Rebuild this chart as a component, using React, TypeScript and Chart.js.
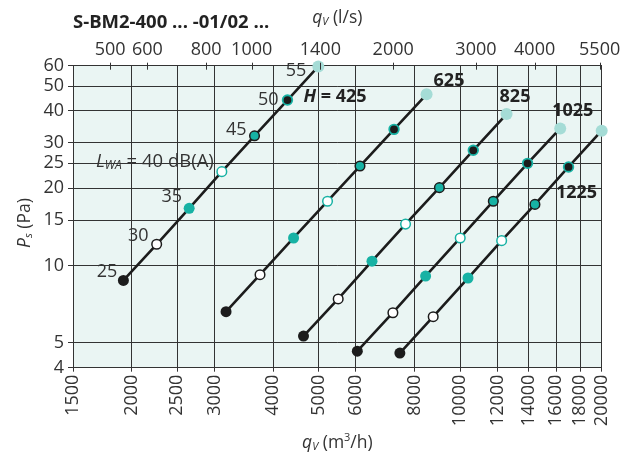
import { useEffect, useRef } from "react";
import { Chart, registerables } from "chart.js";

Chart.register(...registerables);

// ---- data ----
const lwaLevels = [25, 30, 35, 40, 45, 50, 55];
const heightLabels = ["425", "625", "825", "1025", "1225"];

const flowH425 = [1920, 2260, 2650, 3110, 3650, 4290, 4990];
const psH425 = [8.75, 12.1, 16.7, 23.2, 32.0, 44.1, 59.6];
const flowH625 = [3175, 3750, 4420, 5220, 6120, 7230, 8480];
const psH625 = [6.61, 9.21, 12.8, 17.8, 24.4, 33.9, 46.4];
const flowH825 = [4640, 5500, 6490, 7650, 9030, 10660, 12550];
const psH825 = [5.31, 7.41, 10.4, 14.5, 20.1, 28.1, 38.9];
const flowH1025 = [6040, 7190, 8440, 10000, 11760, 13910, 16320];
const psH1025 = [4.64, 6.55, 9.1, 12.8, 17.8, 25.0, 34.2];
const flowH1225 = [7440, 8760, 10390, 12250, 14420, 17000, 20000];
const psH1225 = [4.56, 6.32, 8.94, 12.5, 17.3, 24.2, 33.5];

const bottomTicks = [1500, 2000, 2500, 3000, 4000, 5000, 6000, 8000, 10000, 12000, 14000, 16000, 18000, 20000];
const topTicks = [500, 600, 800, 1000, 1400, 2000, 3000, 4000, 5500];
const yTicks = [4, 5, 10, 15, 20, 25, 30, 40, 50, 60];
const M3H_PER_LS = 3.6;

const flows = [flowH425, flowH625, flowH825, flowH1025, flowH1225];
const pressures = [psH425, psH625, psH825, psH1025, psH1225];

// ---- styles ----
const FONT = "'Open Sans', 'Noto Sans', sans-serif";
const TEXT = "#333333";
const DARK = "#1c1c1c";
const GRID = "#333333";
const TEAL = "#17b2a4";
const LIGHT = "#a5dcd6";
const WHITE = "#ffffff";
const PLOT_BG = "#eaf5f3";

const pointFill = [DARK, WHITE, TEAL, WHITE, TEAL, DARK, LIGHT];
const pointBorder = [DARK, DARK, TEAL, TEAL, DARK, TEAL, LIGHT];
const pointRad = [5.5, 4.8, 5.5, 4.8, 4.8, 4.8, 6];
const pointBW = [0, 1.5, 0, 1.5, 1.5, 1.8, 0];

// label offsets for LWA levels on the first curve (dx to right edge, dy to centre)
const lwaLabelDx = [-6, -8, -7, -8, -8, -9, -12];
const lwaLabelDy = [-9, -8, -11, -10, -6, 0, 4];

type Part = { t: string; font: string; dy?: number };

function drawRich(ctx: CanvasRenderingContext2D, parts: Part[], x: number, y: number, align: "left" | "center" | "right", color: string) {
  ctx.save();
  ctx.textBaseline = "middle";
  ctx.textAlign = "left";
  ctx.fillStyle = color;
  let w = 0;
  for (const p of parts) {
    ctx.font = p.font;
    w += ctx.measureText(p.t).width;
  }
  let cx = align === "left" ? x : align === "center" ? x - w / 2 : x - w;
  for (const p of parts) {
    ctx.font = p.font;
    ctx.fillText(p.t, cx, y + (p.dy || 0));
    cx += ctx.measureText(p.t).width;
  }
  ctx.restore();
}

const f = (size: number, style = "", weight = "") => `${style} ${weight} ${size}px ${FONT}`.trim();

const decorPlugin = {
  id: "decor",
  beforeDraw(chart: any) {
    const { ctx, chartArea: a } = chart;
    ctx.save();
    ctx.fillStyle = PLOT_BG;
    ctx.fillRect(a.left, a.top, a.right - a.left, a.bottom - a.top);
    ctx.restore();
  },
  afterDraw(chart: any) {
    const { ctx, chartArea: a } = chart;
    const xs = chart.scales.x;
    const ys = chart.scales.y;
    const xt = chart.scales.x2;

    // top tick marks crossing the border
    ctx.save();
    ctx.strokeStyle = GRID;
    ctx.lineWidth = 1;
    for (const v of topTicks) {
      const px = Math.round(xt.getPixelForValue(v)) + 0.5;
      ctx.beginPath();
      ctx.moveTo(px, a.top - 3);
      ctx.lineTo(px, a.top + 4);
      ctx.stroke();
    }
    ctx.restore();

    // chart heading
    drawRich(ctx, [{ t: "S-BM2-400 ... -01/02 ...", font: f(18.5, "", "bold") }], a.left, 23, "left", "#222");

    // top axis title
    const cxm = (a.left + a.right) / 2;
    drawRich(
      ctx,
      [
        { t: "q", font: f(17.5, "italic") },
        { t: "V", font: f(11, "italic"), dy: 4 },
        { t: " (l/s)", font: f(17.5) },
      ],
      cxm,
      18,
      "center",
      TEXT
    );
    // bottom axis title
    drawRich(
      ctx,
      [
        { t: "q", font: f(17.5, "italic") },
        { t: "V", font: f(11, "italic"), dy: 4 },
        { t: " (m", font: f(17.5) },
        { t: "3", font: f(11), dy: -5 },
        { t: "/h)", font: f(17.5) },
      ],
      cxm,
      443,
      "center",
      TEXT
    );
    // y axis title
    ctx.save();
    ctx.translate(25, 223);
    ctx.rotate(-Math.PI / 2);
    drawRich(
      ctx,
      [
        { t: "P", font: f(17.5, "italic") },
        { t: "s", font: f(11, "italic"), dy: 4 },
        { t: " (Pa)", font: f(17.5) },
      ],
      0,
      0,
      "center",
      TEXT
    );
    ctx.restore();

    // LWA labels on first curve
    for (let i = 0; i < lwaLevels.length; i++) {
      const px = xs.getPixelForValue(flowH425[i]);
      const py = ys.getPixelForValue(psH425[i]);
      const x = px + lwaLabelDx[i];
      const y = py + lwaLabelDy[i];
      if (lwaLevels[i] === 40) {
        drawRich(
          ctx,
          [
            { t: "L", font: f(18.5, "italic") },
            { t: "WA", font: f(12, "italic"), dy: 4 },
            { t: " = " + lwaLevels[i] + " dB(A)", font: f(18.5) },
          ],
          x,
          y,
          "right",
          TEXT
        );
      } else {
        drawRich(ctx, [{ t: String(lwaLevels[i]), font: f(18) }], x, y, "right", TEXT);
      }
    }

    // H labels
    const last = lwaLevels.length - 1;
    const p = (k: number, i: number) => ({ x: xs.getPixelForValue(flows[k][i]), y: ys.getPixelForValue(pressures[k][i]) });
    const b = f(18, "", "bold");
    const p0 = p(0, 5);
    drawRich(
      ctx,
      [
        { t: "H", font: f(18, "italic", "bold") },
        { t: " = " + heightLabels[0], font: b },
      ],
      p0.x + 16,
      p0.y - 3,
      "left",
      "#222"
    );
    const p1 = p(1, last);
    drawRich(ctx, [{ t: heightLabels[1], font: b }], p1.x + 7, p1.y - 13, "left", "#222");
    const p2 = p(2, last);
    drawRich(ctx, [{ t: heightLabels[2], font: b }], p2.x - 7, p2.y - 17, "left", "#222");
    const p3 = p(3, last);
    drawRich(ctx, [{ t: heightLabels[3], font: b }], p3.x - 8, p3.y - 18, "left", "#222");
    const p4 = p(4, 4);
    drawRich(ctx, [{ t: heightLabels[4], font: b }], p4.x + 21, p4.y - 12, "left", "#222");
  },
};

export default function App() {
  const ref = useRef<HTMLCanvasElement | null>(null);

  useEffect(() => {
    document.body.style.margin = "0";
    const canvas = ref.current;
    if (!canvas) return;

    const datasets = flows.map((fl, k) => ({
      label: "H = " + heightLabels[k],
      data: fl.map((q, i) => ({ x: q, y: pressures[k][i] })),
      borderColor: DARK,
      borderWidth: 2.6,
      pointBackgroundColor: pointFill,
      pointBorderColor: pointBorder,
      pointRadius: pointRad,
      pointBorderWidth: pointBW,
      pointHoverRadius: pointRad,
      tension: 0,
      clip: false as any,
      xAxisID: "x",
      yAxisID: "y",
    }));

    const tickFont = { family: FONT, size: 18 };

    const chart = new Chart(canvas, {
      type: "line",
      data: { datasets },
      plugins: [decorPlugin],
      options: {
        animation: false,
        responsive: false,
        devicePixelRatio: 1,
        events: [],
        layout: { padding: { top: 0, left: 0, right: 18.3, bottom: 0 } },
        plugins: { legend: { display: false }, tooltip: { enabled: false } },
        scales: {
          x: {
            type: "logarithmic",
            position: "bottom",
            min: 1500,
            max: 20000,
            afterBuildTicks: (s: any) => {
              s.ticks = bottomTicks.map((v) => ({ value: v }));
            },
            afterFit: (s: any) => {
              s.height = 461 - 367.7;
              s.paddingLeft = 0;
              s.paddingRight = 0;
            },
            ticks: {
              autoSkip: false,
              minRotation: 90,
              maxRotation: 90,
              padding: 3,
              color: TEXT,
              font: tickFont,
              callback: (v: any) => String(v),
            },
            grid: { color: GRID, lineWidth: 1, drawTicks: true, tickLength: 4 },
            border: { color: GRID, width: 1 },
          },
          x2: {
            type: "logarithmic",
            position: "top",
            min: 1500 / M3H_PER_LS,
            max: 20000 / M3H_PER_LS,
            afterBuildTicks: (s: any) => {
              s.ticks = topTicks.map((v) => ({ value: v }));
            },
            afterFit: (s: any) => {
              s.height = 65.7;
              s.paddingLeft = 0;
              s.paddingRight = 0;
            },
            ticks: {
              autoSkip: false,
              maxRotation: 0,
              minRotation: 0,
              padding: 5,
              color: TEXT,
              font: tickFont,
              callback: (v: any) => String(v),
            },
            grid: { display: true, drawOnChartArea: false, drawTicks: false, color: "rgba(0,0,0,0)" },
            border: { display: true, color: GRID, width: 1 },
          },
          y: {
            type: "logarithmic",
            position: "left",
            min: 4,
            max: 60,
            afterBuildTicks: (s: any) => {
              s.ticks = yTicks.map((v) => ({ value: v }));
            },
            afterFit: (s: any) => {
              s.width = 73;
              s.paddingTop = 0;
              s.paddingBottom = 0;
            },
            ticks: {
              autoSkip: false,
              padding: 4,
              color: TEXT,
              font: tickFont,
              callback: (v: any) => String(v),
            },
            grid: { color: GRID, lineWidth: 1, drawTicks: true, tickLength: 5 },
            border: { color: GRID, width: 1 },
          },
        },
      } as any,
    });

    return () => chart.destroy();
  }, []);

  return (
    <div style={{ width: 620, height: 461 }}>
      <canvas ref={ref} width={620} height={461} style={{ display: "block" }} />
    </div>
  );
}
